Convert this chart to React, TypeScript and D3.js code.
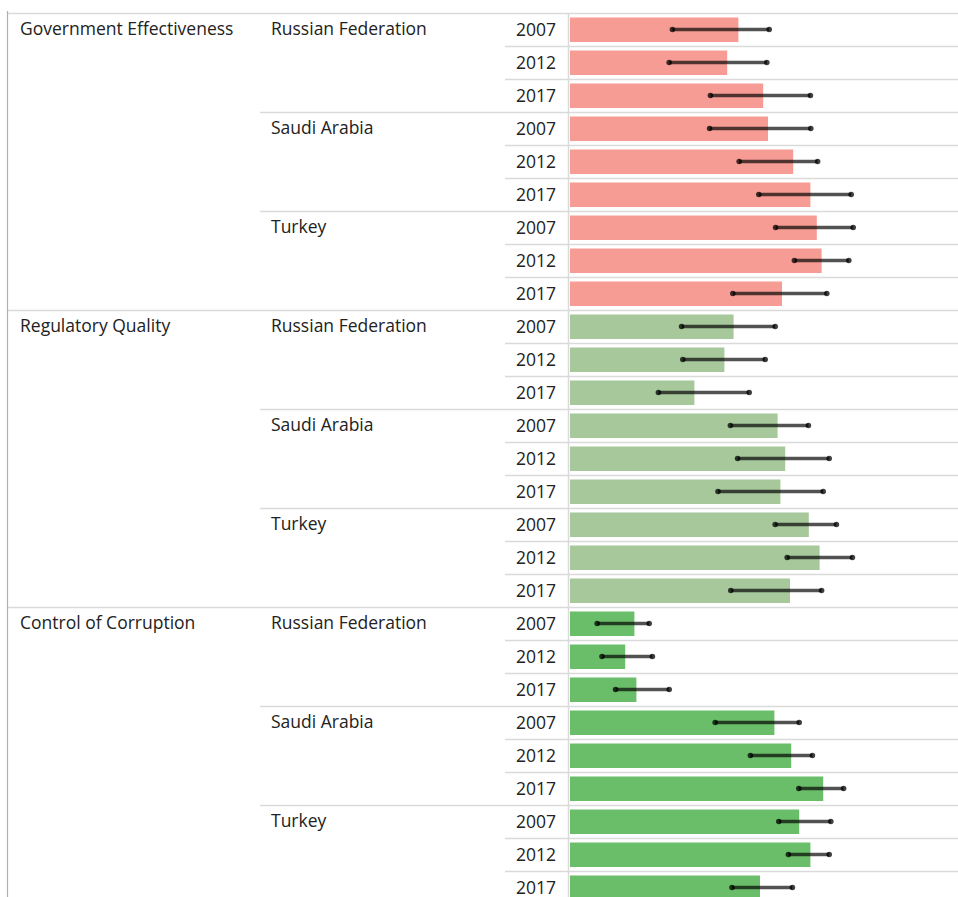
import React, { useEffect, useRef } from 'react';
import * as d3 from 'd3';

// WGI percentile ranks with 90% confidence bounds
const categories = ['Government Effectiveness', 'Regulatory Quality', 'Control of Corruption'];
const countries = ['Russian Federation', 'Saudi Arabia', 'Turkey'];
const years = ['2007', '2012', '2017'];
const categoryColors = ['#f79c94', '#a6c89b', '#6abe69'];

// order: category > country > year
const estimates = [
  42.1, 39.3, 48.3, 49.5, 55.8, 60.1, 61.7, 62.9, 53.0,
  40.9, 38.6, 31.1, 51.9, 53.8, 52.6, 59.7, 62.4, 55.0,
  16.1, 13.8, 16.6, 51.1, 55.3, 63.3, 57.3, 60.1, 47.5,
];
const lowerBounds = [
  25.6, 24.8, 35.1, 34.9, 42.3, 47.2, 51.4, 56.1, 40.7,
  27.9, 28.2, 22.1, 40.1, 41.9, 37.0, 51.3, 54.3, 40.2,
  6.8, 8.0, 11.4, 36.3, 45.1, 57.2, 52.2, 54.6, 40.5,
];
const upperBounds = [
  49.8, 49.2, 60.1, 60.2, 61.9, 70.3, 70.8, 69.7, 64.2,
  51.3, 48.8, 44.8, 59.6, 64.8, 63.3, 66.6, 70.6, 62.9,
  19.8, 20.6, 24.8, 57.3, 60.6, 68.4, 65.2, 64.8, 55.6,
];

interface Row {
  idx: number;
  category: string;
  country: string;
  year: string;
  ci: number;
  co: number;
  yi: number;
  value: number;
  lo: number;
  hi: number;
}

const App: React.FC = () => {
  const ref = useRef<SVGSVGElement>(null);

  useEffect(() => {
    if (!ref.current) return;
    const svg = d3.select(ref.current);
    svg.selectAll('*').remove();

    const W = 958;
    const rowH = 33;
    const top = 13;
    const font = '"Open Sans", "Noto Sans", sans-serif';
    const fontSize = 17.5;
    const textColor = '#222';
    const gridColor = '#dadada';

    const rows: Row[] = [];
    categories.forEach((category, ci) => {
      countries.forEach((country, co) => {
        years.forEach((year, yi) => {
          const idx = rows.length;
          rows.push({ idx, category, country, year, ci, co, yi,
            value: estimates[idx], lo: lowerBounds[idx], hi: upperBounds[idx] });
        });
      });
    });

    const y = d3.scaleBand<number>()
      .domain(rows.map(d => d.idx))
      .range([top, top + rows.length * rowH]);

    const x = d3.scaleLinear().domain([0, 100]).range([570, 970]);

    // row separators
    svg.append('g')
      .selectAll('line')
      .data(rows.filter(d => d.idx > 0))
      .enter()
      .append('line')
      .attr('x1', d => (d.co === 0 && d.yi === 0) ? 8 : (d.yi === 0 ? 260 : 505))
      .attr('x2', W)
      .attr('y1', d => (y(d.idx) as number) + 0.5)
      .attr('y2', d => (y(d.idx) as number) + 0.5)
      .attr('stroke', gridColor)
      .attr('stroke-width', 1.5);

    // top line
    svg.append('line')
      .attr('x1', 8).attr('x2', W)
      .attr('y1', top + 0.5).attr('y2', top + 0.5)
      .attr('stroke', gridColor)
      .attr('stroke-width', 1.5);

    // left frame
    svg.append('line')
      .attr('x1', 7.5).attr('x2', 7.5)
      .attr('y1', 11).attr('y2', 897)
      .attr('stroke', '#b5afa8')
      .attr('stroke-width', 1.2);

    // vertical line before bars
    svg.append('line')
      .attr('x1', 568.5).attr('x2', 568.5)
      .attr('y1', top).attr('y2', 897)
      .attr('stroke', gridColor)
      .attr('stroke-width', 1.5);

    // bars
    svg.append('g')
      .selectAll('rect')
      .data(rows)
      .enter()
      .append('rect')
      .attr('x', x(0))
      .attr('y', d => (y(d.idx) as number) + 4.5)
      .attr('width', d => x(d.value) - x(0))
      .attr('height', y.bandwidth() - 8.5)
      .attr('fill', d => categoryColors[d.ci]);

    // error bars
    const err = svg.append('g');
    err.selectAll('line')
      .data(rows)
      .enter()
      .append('line')
      .attr('x1', d => x(d.lo))
      .attr('x2', d => x(d.hi))
      .attr('y1', d => (y(d.idx) as number) + y.bandwidth() / 2)
      .attr('y2', d => (y(d.idx) as number) + y.bandwidth() / 2)
      .attr('stroke', '#000')
      .attr('stroke-opacity', 0.68)
      .attr('stroke-width', 3.6);

    const ends = rows.flatMap(d => [{ r: d, v: d.lo }, { r: d, v: d.hi }]);
    err.selectAll('circle')
      .data(ends)
      .enter()
      .append('circle')
      .attr('cx', d => x(d.v))
      .attr('cy', d => (y(d.r.idx) as number) + y.bandwidth() / 2)
      .attr('r', 2.8)
      .attr('fill', '#000')
      .attr('fill-opacity', 0.75);

    // labels
    const labels = svg.append('g')
      .attr('font-family', font)
      .attr('font-size', fontSize)
      .attr('fill', textColor);

    labels.selectAll('.year')
      .data(rows)
      .enter()
      .append('text')
      .attr('class', 'year')
      .attr('x', 556)
      .attr('y', d => (y(d.idx) as number) + y.bandwidth() / 2)
      .attr('dy', '0.35em')
      .attr('text-anchor', 'end')
      .text(d => d.year);

    labels.selectAll('.country')
      .data(rows.filter(d => d.yi === 0))
      .enter()
      .append('text')
      .attr('class', 'country')
      .attr('x', 271)
      .attr('y', d => (y(d.idx) as number) + y.bandwidth() / 2 - 1)
      .attr('dy', '0.35em')
      .text(d => d.country);

    labels.selectAll('.category')
      .data(rows.filter(d => d.yi === 0 && d.co === 0))
      .enter()
      .append('text')
      .attr('class', 'category')
      .attr('x', 20)
      .attr('y', d => (y(d.idx) as number) + y.bandwidth() / 2 - 1)
      .attr('dy', '0.35em')
      .text(d => d.category);
  }, []);

  return (
    <svg
      ref={ref}
      width={958}
      height={897}
      style={{ position: 'absolute', left: 0, top: 0, background: '#fff' }}
    />
  );
};

export default App;
